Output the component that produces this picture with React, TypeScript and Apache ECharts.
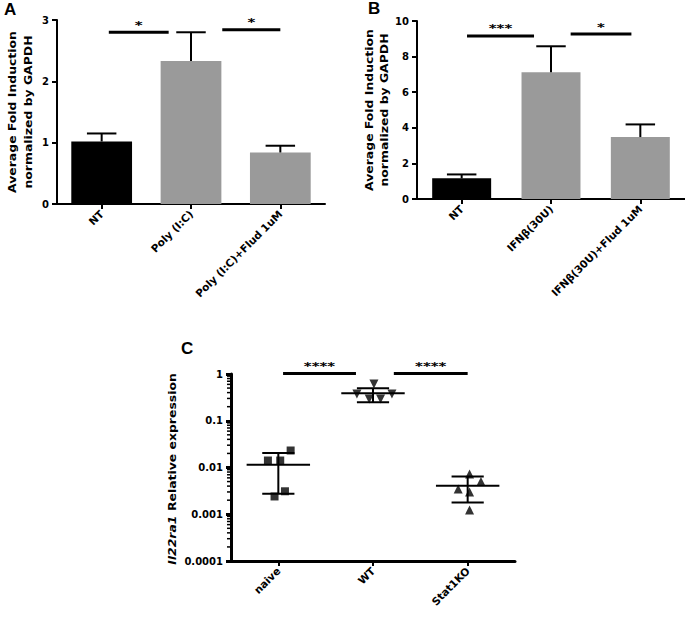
import React, { useEffect, useRef } from 'react';
import * as echarts from 'echarts';

// ---------- Panel A ----------
const catsA = ['NT', 'Poly (I:C)', 'Poly (I:C)+Flud 1uM'];
const meanA = [1.02, 2.33, 0.84];
const errTopA = [1.15, 2.8, 0.95];
const barColorsA = ['#000000', '#9a9a9a', '#9a9a9a'];
const sigLinesA = [[0.08, 0.75, 2.8], [1.35, 2.0, 2.84]];
const sigTextA = ['*', '*'];

// ---------- Panel B ----------
const catsB = ['NT', 'IFNβ(30U)', 'IFNβ(30U)+Flud 1uM'];
const meanB = [1.16, 7.12, 3.48];
const errTopB = [1.38, 8.58, 4.19];
const barColorsB = ['#000000', '#9a9a9a', '#9a9a9a'];
const sigLinesB = [[0.06, 0.81, 9.16], [1.22, 1.9, 9.27]];
const sigTextB = ['***', '*'];

// ---------- Panel C ----------
const catsC = ['naive', 'WT', 'Stat1KO'];
const naivePts = [[-0.11, 0.0141], [0.02, 0.0141], [0.13, 0.0231], [-0.04, 0.0024], [0.07, 0.0031]];
const wtPts = [[1.01, 0.611], [0.83, 0.373], [0.96, 0.292], [1.08, 0.292], [1.2, 0.373]];
const stat1koPts = [[2.02, 0.00723], [2.14, 0.00502], [1.9, 0.00345], [2.02, 0.00298], [2.02, 0.00124]];
// [category index, mean, upper SD, lower SD]
const statsC = [[0, 0.0114, 0.0203, 0.00274], [1, 0.388, 0.494, 0.248], [2, 0.00406, 0.00642, 0.00179]];
const sigLinesC = [[0.05, 0.82, 1.03], [1.22, 2.0, 1.03]];
const sigTextC = ['****', '****'];
const decadesC = [0.0001, 0.001, 0.01, 0.1];
const minorMultipliers = [2, 3, 4, 5, 6, 7, 8, 9];

const FONT = 'DejaVu Sans';

function errorBarSeries(xIdx: number, yIdx: number, means: number[], tops: number[]) {
  return {
    type: 'custom',
    coordinateSystem: 'cartesian2d',
    xAxisIndex: xIdx,
    yAxisIndex: yIdx,
    silent: true,
    clip: false,
    z: 3,
    encode: { x: 0, y: [1, 2] },
    data: means.map((m, i) => [i, m, tops[i]]),
    renderItem: (params: any, api: any) => {
      const x = api.value(0);
      const p0 = api.coord([x, api.value(1)]);
      const p1 = api.coord([x, api.value(2)]);
      const band = api.coord([1, 0])[0] - api.coord([0, 0])[0];
      const hw = band * 0.165;
      const st = { stroke: '#000', lineWidth: 2 };
      return {
        type: 'group',
        children: [
          { type: 'line', shape: { x1: p0[0], y1: p0[1], x2: p1[0], y2: p1[1] }, style: st },
          { type: 'line', shape: { x1: p1[0] - hw, y1: p1[1], x2: p1[0] + hw, y2: p1[1] }, style: st },
        ],
      };
    },
  };
}

function sigSeries(xIdx: number, yIdx: number, lines: number[][], texts: string[]) {
  return {
    type: 'custom',
    coordinateSystem: 'cartesian2d',
    xAxisIndex: xIdx,
    yAxisIndex: yIdx,
    silent: true,
    clip: false,
    z: 4,
    encode: { x: [0, 1], y: 2 },
    data: lines,
    renderItem: (params: any, api: any) => {
      const a = api.coord([api.value(0), api.value(2)]);
      const b = api.coord([api.value(1), api.value(2)]);
      return {
        type: 'group',
        children: [
          { type: 'line', shape: { x1: a[0], y1: a[1], x2: b[0], y2: b[1] }, style: { stroke: '#000', lineWidth: 3 } },
          {
            type: 'text',
            x: (a[0] + b[0]) / 2,
            y: a[1] - 2,
            scaleX: 1.5,
            style: {
              text: texts[params.dataIndex],
              fontFamily: FONT,
              fontWeight: 'bold',
              fontSize: 10,
              fill: '#000',
              align: 'center',
              verticalAlign: 'bottom',
            },
          },
        ],
      };
    },
  };
}

function catAxis(grid: number, cats: string[], lineW: number, fontSize: number) {
  return {
    type: 'category',
    gridIndex: grid,
    data: cats,
    boundaryGap: true,
    axisLine: { show: true, onZero: false, lineStyle: { color: '#000', width: lineW } },
    axisTick: { show: true, alignWithLabel: true, length: 5, lineStyle: { color: '#000', width: 2 } },
    axisLabel: {
      rotate: 45,
      interval: 0,
      margin: 8,
      color: '#000',
      fontFamily: FONT,
      fontWeight: 'bold',
      fontSize,
    },
    splitLine: { show: false },
  };
}

function hiddenX(grid: number) {
  return { type: 'value', gridIndex: grid, min: -0.5, max: 2.5, show: false };
}

const tickLabel = { color: '#000', fontFamily: FONT, fontWeight: 'bold', fontSize: 10, margin: 8 };

export default function App() {
  const ref = useRef<HTMLDivElement>(null);
  useEffect(() => {
    if (!ref.current) return;
    const chart = echarts.init(ref.current, null, { renderer: 'svg' });
    const minorData: number[][] = [];
    decadesC.forEach((d) => minorMultipliers.forEach((k) => minorData.push([-0.5, k * d])));

    const titleStyle = { fontFamily: FONT, fontWeight: 'bold', fontSize: 11, fill: '#000', align: 'center', verticalAlign: 'middle' };

    const option: any = {
      animation: false,
      backgroundColor: '#ffffff',
      grid: [
        { left: 57, top: 20, width: 268, height: 184 },
        { left: 417, top: 21, width: 268, height: 178 },
        { left: 231, top: 374, width: 284, height: 187 },
      ],
      xAxis: [
        catAxis(0, catsA, 2, 10.5),
        hiddenX(0),
        catAxis(1, catsB, 2, 10.5),
        hiddenX(1),
        catAxis(2, catsC, 3, 10.5),
        hiddenX(2),
      ],
      yAxis: [
        {
          type: 'value', gridIndex: 0, min: 0, max: 3, interval: 1, position: 'left',
          axisLine: { show: true, onZero: false, lineStyle: { color: '#000', width: 2 } },
          axisTick: { show: true, length: 5, lineStyle: { color: '#000', width: 2 } },
          axisLabel: tickLabel,
          splitLine: { show: false },
        },
        {
          type: 'value', gridIndex: 1, min: 0, max: 10, interval: 2, position: 'left',
          axisLine: { show: true, onZero: false, lineStyle: { color: '#000', width: 2 } },
          axisTick: { show: true, length: 5, lineStyle: { color: '#000', width: 2 } },
          axisLabel: tickLabel,
          splitLine: { show: false },
        },
        {
          type: 'log', logBase: 10, gridIndex: 2, min: 0.0001, max: 1, position: 'left',
          axisLine: { show: true, onZero: false, lineStyle: { color: '#000', width: 3 } },
          axisTick: { show: true, length: 5, lineStyle: { color: '#000', width: 3 } },
          axisLabel: { ...tickLabel, formatter: (v: number) => String(Number(v.toPrecision(1))) },
          splitLine: { show: false },
        },
      ],
      graphic: [
        { type: 'text', left: 4, top: 1, style: { text: 'A', fontFamily: 'Liberation Sans', fontWeight: 'bold', fontSize: 17, fill: '#000' } },
        { type: 'text', left: 368, top: 0, style: { text: 'B', fontFamily: 'Liberation Sans', fontWeight: 'bold', fontSize: 17, fill: '#000' } },
        { type: 'text', left: 181, top: 340, style: { text: 'C', fontFamily: 'Liberation Sans', fontWeight: 'bold', fontSize: 17, fill: '#000' } },
        { type: 'text', x: 12, y: 112, rotation: Math.PI / 2, scaleX: 1.13, style: { ...titleStyle, text: 'Average Fold Induction' } },
        { type: 'text', x: 28, y: 112, rotation: Math.PI / 2, scaleX: 1.13, style: { ...titleStyle, text: 'normalized by GAPDH' } },
        { type: 'text', x: 369, y: 110, rotation: Math.PI / 2, scaleX: 1.13, style: { ...titleStyle, text: 'Average Fold Induction' } },
        { type: 'text', x: 384, y: 110, rotation: Math.PI / 2, scaleX: 1.13, style: { ...titleStyle, text: 'normalized by GAPDH' } },
        {
          type: 'text', x: 172, y: 469, rotation: Math.PI / 2, scaleX: 1.13,
          style: {
            ...titleStyle,
            text: '{i|Il22ra1} Relative expression',
            rich: { i: { fontFamily: FONT, fontWeight: 'bold', fontStyle: 'italic', fontSize: 11, fill: '#000' } },
          },
        },
      ],
      series: [
        {
          type: 'bar', xAxisIndex: 0, yAxisIndex: 0, barWidth: '68%', silent: true, z: 2,
          data: meanA.map((v, i) => ({ value: v, itemStyle: { color: barColorsA[i] } })),
        },
        errorBarSeries(1, 0, meanA, errTopA),
        sigSeries(1, 0, sigLinesA, sigTextA),
        {
          type: 'bar', xAxisIndex: 2, yAxisIndex: 1, barWidth: '66%', silent: true, z: 2,
          data: meanB.map((v, i) => ({ value: v, itemStyle: { color: barColorsB[i] } })),
        },
        errorBarSeries(3, 1, meanB, errTopB),
        sigSeries(3, 1, sigLinesB, sigTextB),
        // Panel C
        {
          type: 'custom', coordinateSystem: 'cartesian2d', xAxisIndex: 5, yAxisIndex: 2,
          silent: true, clip: false, z: 3, encode: { x: 0, y: 1 }, data: minorData,
          renderItem: (params: any, api: any) => {
            const p = api.coord([api.value(0), api.value(1)]);
            return { type: 'line', shape: { x1: p[0] - 4, y1: p[1], x2: p[0], y2: p[1] }, style: { stroke: '#000', lineWidth: 1.5 } };
          },
        },
        {
          type: 'custom', coordinateSystem: 'cartesian2d', xAxisIndex: 5, yAxisIndex: 2,
          silent: true, clip: false, z: 3, encode: { x: 0, y: [1, 2, 3] }, data: statsC,
          renderItem: (params: any, api: any) => {
            const x = api.value(0);
            const pm = api.coord([x, api.value(1)]);
            const pu = api.coord([x, api.value(2)]);
            const pl = api.coord([x, api.value(3)]);
            const band = api.coord([1, 1])[0] - api.coord([0, 1])[0];
            const st = { stroke: '#000', lineWidth: 2 };
            return {
              type: 'group',
              children: [
                { type: 'line', shape: { x1: pm[0] - band * 0.335, y1: pm[1], x2: pm[0] + band * 0.335, y2: pm[1] }, style: st },
                { type: 'line', shape: { x1: pu[0] - band * 0.17, y1: pu[1], x2: pu[0] + band * 0.17, y2: pu[1] }, style: st },
                { type: 'line', shape: { x1: pl[0] - band * 0.17, y1: pl[1], x2: pl[0] + band * 0.17, y2: pl[1] }, style: st },
                { type: 'line', shape: { x1: pu[0], y1: pu[1], x2: pl[0], y2: pl[1] }, style: st },
              ],
            };
          },
        },
        {
          type: 'scatter', xAxisIndex: 5, yAxisIndex: 2, silent: true, z: 4,
          symbol: 'rect', symbolSize: 8, itemStyle: { color: '#000' }, data: naivePts,
        },
        {
          type: 'scatter', xAxisIndex: 5, yAxisIndex: 2, silent: true, z: 4,
          symbol: 'triangle', symbolRotate: 180, symbolSize: 9, itemStyle: { color: '#000' }, data: wtPts,
        },
        {
          type: 'scatter', xAxisIndex: 5, yAxisIndex: 2, silent: true, z: 4,
          symbol: 'triangle', symbolSize: 9, itemStyle: { color: '#000' }, data: stat1koPts,
        },
        sigSeries(5, 2, sigLinesC, sigTextC),
      ],
    };
    chart.setOption(option);
    return () => chart.dispose();
  }, []);
  return <div ref={ref} style={{ position: 'absolute', left: 0, top: 0, width: 685, height: 619 }} />;
}
